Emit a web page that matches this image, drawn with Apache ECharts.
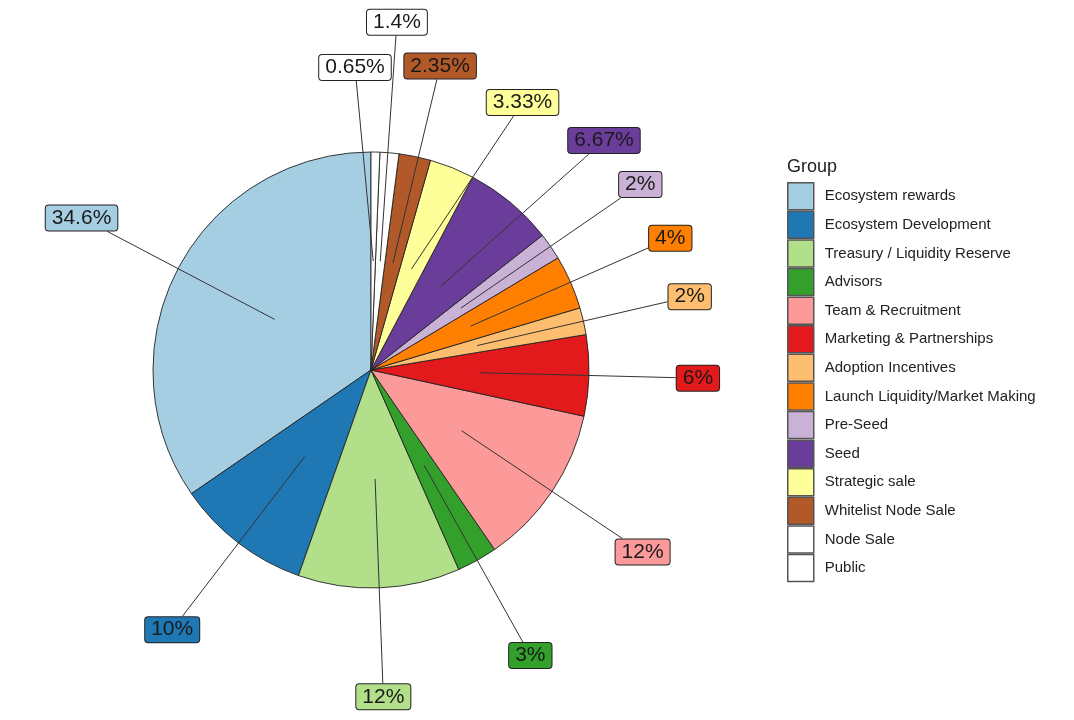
<!DOCTYPE html>
<html><head><meta charset="utf-8">
<script src="https://cdn.jsdelivr.net/npm/echarts@6/dist/echarts.min.js"></script>
<style>html,body{margin:0;padding:0;background:#fff}#c{width:1074px;height:720px}</style>
</head><body><div id="c"></div>
<script>
const categories = ['Ecosystem rewards','Ecosystem Development','Treasury / Liquidity Reserve','Advisors','Team & Recruitment','Marketing & Partnerships','Adoption Incentives','Launch Liquidity/Market Making','Pre-Seed','Seed','Strategic sale','Whitelist Node Sale','Node Sale','Public'];
const shares = [34.6, 10, 12, 3, 12, 6, 2, 4, 2, 6.67, 3.33, 2.35, 1.4, 0.65];
const colors = ['#A6CEE3','#1F78B4','#B2DF8A','#33A02C','#FB9A99','#E31A1C','#FDBF6F','#FF7F00','#CAB2D6','#6A3D9A','#FFFF99','#B15928','#FFFFFF','#FFFFFF'];
// label repel adjustments: clockwise degrees, radius multiple
const labelNudge = {
  'Public': {da: -4.2, r: 1.39},
  'Node Sale': {da: -0.6, r: 1.6},
  'Whitelist Node Sale': {da: 1.2, r: 1.43},
  'Strategic sale': {da: 7.7, r: 1.41},
  'Seed': {da: 5.6, r: 1.5}
};
const R = 218;
const CENTER = [371, 370];
const FONT = 'Liberation Sans, Arial, sans-serif';

function layoutLabel(p) {
  const pts = p.labelLinePoints;
  if (!pts) return {};
  const name = categories[p.dataIndex];
  let dx = pts[1][0] - pts[0][0], dy = pts[1][1] - pts[0][1];
  const L = Math.hypot(dx, dy) || 1; dx /= L; dy /= L;
  const cx = pts[0][0] - dx * R, cy = pts[0][1] - dy * R;
  const ax = cx + dx * R * 0.5, ay = cy + dy * R * 0.5;
  const nd = labelNudge[name] || {da: 0, r: 1.5};
  const phi = nd.da * Math.PI / 180;
  const ux = dx * Math.cos(phi) - dy * Math.sin(phi);
  const uy = dx * Math.sin(phi) + dy * Math.cos(phi);
  const lx = cx + ux * R * nd.r, ly = cy + uy * R * nd.r;
  const hw = p.labelRect.width / 2, hh = p.labelRect.height / 2;
  const vx = ax - lx, vy = ay - ly;
  const t = Math.min(hw / Math.max(Math.abs(vx), 1e-9), hh / Math.max(Math.abs(vy), 1e-9));
  const bx = lx + vx * t, by = ly + vy * t;
  return {x: lx, y: ly, align: 'center', verticalAlign: 'middle',
    labelLinePoints: [[ax, ay], [(ax + bx) / 2, (ay + by) / 2], [bx, by]]};
}

const chart = echarts.init(document.getElementById('c'), null, {renderer: 'canvas'});
chart.setOption({
  animation: false,
  backgroundColor: '#fff',
  title: {text: 'Group', left: 787, top: 158, padding: 0,
    textStyle: {fontSize: 18, fontWeight: 'normal', color: '#222', fontFamily: FONT}},
  legend: {
    orient: 'vertical', left: 787, top: 182, padding: 0,
    itemWidth: 26, itemHeight: 27, itemGap: 0.1,
    icon: 'rect', selectedMode: false, data: categories,
    itemStyle: {borderColor: '#555', borderWidth: 1.5},
    textStyle: {fontSize: 15, color: '#222', fontFamily: FONT, padding: [0, 0, 0, 6]}
  },
  series: [{
    type: 'pie',
    z: 2,
    center: CENTER,
    radius: R,
    startAngle: 90,
    clockwise: false,
    avoidLabelOverlap: false,
    silent: true,
    itemStyle: {borderColor: '#222', borderWidth: 0.9},
    label: {show: false},
    labelLine: {show: false},
    emphasis: {disabled: true},
    data: categories.map((n, i) => ({name: n, value: shares[i], itemStyle: {color: colors[i]}}))
  }, {
    type: 'pie',
    z: 5,
    center: CENTER,
    radius: R,
    startAngle: 90,
    clockwise: false,
    avoidLabelOverlap: false,
    silent: true,
    itemStyle: {color: 'rgba(0,0,0,0)', borderWidth: 0},
    label: {
      show: true, position: 'outside', formatter: '{c}%',
      fontSize: 21, color: '#1a1a1a', fontFamily: FONT,
      borderColor: '#222', borderWidth: 1, borderRadius: 3,
      padding: [2, 6, 1, 6], lineHeight: 22
    },
    labelLine: {show: true, length: 10, length2: 0, lineStyle: {color: '#333', width: 1}},
    labelLayout: layoutLabel,
    emphasis: {disabled: true},
    data: categories.map((n, i) => ({
      name: n, value: shares[i],
      label: {backgroundColor: colors[i]}
    }))
  }]
});
</script></body></html>
